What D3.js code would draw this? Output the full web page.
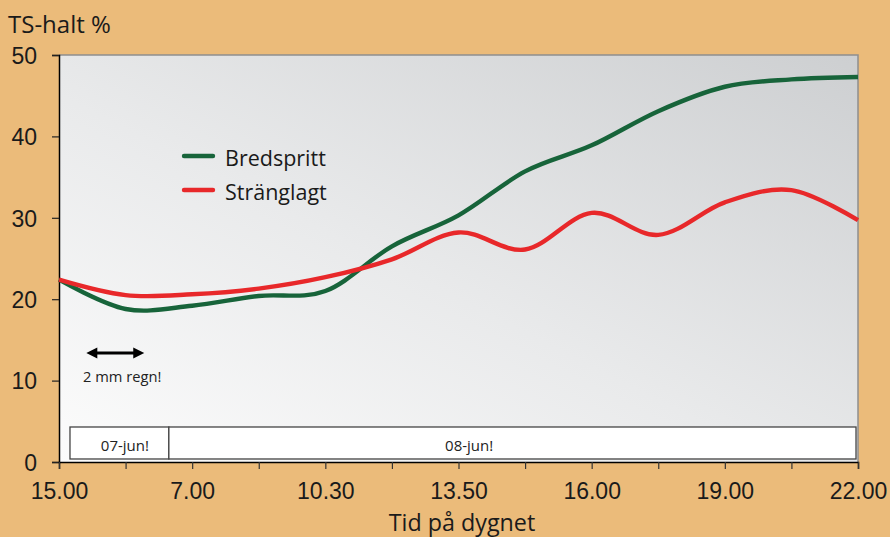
<!DOCTYPE html>
<html><head><meta charset="utf-8">
<script src="https://cdn.jsdelivr.net/npm/d3@7"></script>
<style>
html,body{margin:0;padding:0;background:#EBBB7A;}
svg{display:block;font-family:"Open Sans",sans-serif;}
</style></head>
<body><svg id="c" width="890" height="537"></svg>
<script>
const categories = ["15.00","","7.00","","10.30","","13.50","","16.00","","19.00","","22.00"];
const bredspritt = [22.4, 18.8, 19.2, 20.4, 21.0, 26.5, 30.3, 35.7, 38.9, 43.1, 46.1, 47.0, 47.3];
const stranglagt = [22.4, 20.5, 20.6, 21.3, 22.7, 24.9, 28.2, 26.1, 30.6, 27.9, 31.9, 33.4, 29.7];
const seriesNames = ["Bredspritt","Stränglagt"];
const seriesColors = ["#17643A","#E8282A"];
const yTicks = [0,10,20,30,40,50];
const dateLabels = ["07-jun!","08-jun!"];
const dateSpans = [[0.165,1.65],[1.65,11.97]];
const dateLabelPos = [0.99,6.16];
const rainSpan = [0.41,1.28];
const rainLabel = "2 mm regn!";

const svg = d3.select("#c");
const L=59, R=858, T=55, B=462;
const x = d3.scaleLinear().domain([0,categories.length-1]).range([L,R]);
const y = d3.scaleLinear().domain([0,50]).range([B,T]);

const defs = svg.append("defs");
const g = defs.append("linearGradient").attr("id","bg").attr("x1","0%").attr("y1","100%").attr("x2","100%").attr("y2","0%");
g.append("stop").attr("offset","0%").attr("stop-color","#FCFCFC");
g.append("stop").attr("offset","45%").attr("stop-color","#E9EAEB");
g.append("stop").attr("offset","100%").attr("stop-color","#CDCFD1");

svg.append("rect").attr("x",L).attr("y",T).attr("width",R-L).attr("height",B-T).attr("fill","url(#bg)");
svg.append("path").attr("d",`M${L},${T}H${R}V${B}`).attr("fill","none").attr("stroke","#8f8f8f").attr("stroke-width",1.5);

// date band
const band = svg.append("g");
dateSpans.forEach((s,i)=>{
  band.append("rect").attr("x",x(s[0])).attr("y",y(4.3)).attr("width",x(s[1])-x(s[0])).attr("height",y(0.37)-y(4.3))
    .attr("fill","#fff").attr("stroke","#444").attr("stroke-width",1.3);
  band.append("text").attr("x",x(dateLabelPos[i])).attr("y",450.5).attr("text-anchor","middle")
    .attr("font-size",15).attr("fill","#222").text(dateLabels[i]);
});

// axes
const yAxis = d3.axisLeft(y).tickValues(yTicks).tickSize(7).tickPadding(15);
const ya = svg.append("g").attr("transform",`translate(${L},0)`).call(yAxis);
ya.select(".domain").attr("stroke","#000").attr("stroke-width",1.5);
ya.selectAll(".tick line").attr("stroke","#222").attr("stroke-width",1.2);
ya.selectAll(".tick text").attr("font-size",23).attr("fill","#1a1a1a").attr("dy","0.36em");

const xAxis = d3.axisBottom(x).tickValues(d3.range(categories.length)).tickSize(7).tickPadding(14)
  .tickFormat(i=>categories[i]);
const xa = svg.append("g").attr("transform",`translate(0,${B})`).call(xAxis);
xa.select(".domain").attr("stroke","#000").attr("stroke-width",1.5);
xa.selectAll(".tick line").attr("stroke","#333").attr("stroke-width",1.2);
xa.selectAll(".tick text").attr("font-size",23).attr("fill","#1a1a1a");

// lines
const line = d3.line().x((d,i)=>x(i)).y(d=>y(d)).curve(d3.curveCardinal.tension(0));
[bredspritt,stranglagt].forEach((s,k)=>{
  svg.append("path").datum(s).attr("d",line).attr("fill","none").attr("stroke",seriesColors[k]).attr("stroke-width",4.4)
    .attr("stroke-linejoin","round");
});

// legend
seriesNames.forEach((n,k)=>{
  const yy = 156 + k*34;
  svg.append("line").attr("x1",184).attr("x2",213).attr("y1",yy).attr("y2",yy).attr("stroke",seriesColors[k]).attr("stroke-width",4.4).attr("stroke-linecap","round");
  svg.append("text").attr("x",225).attr("y",yy+10).attr("font-size",21.5).attr("fill","#1a1a1a").text(n);
});

// rain arrow
const ay = 353;
const ax1=x(rainSpan[0]), ax2=x(rainSpan[1]);
svg.append("line").attr("x1",ax1+6).attr("x2",ax2-6).attr("y1",ay).attr("y2",ay).attr("stroke","#000").attr("stroke-width",3);
svg.append("path").attr("d",`M${ax1},${ay}L${ax1+11},${ay-5.5}L${ax1+11},${ay+5.5}Z`).attr("fill","#000");
svg.append("path").attr("d",`M${ax2},${ay}L${ax2-11},${ay-5.5}L${ax2-11},${ay+5.5}Z`).attr("fill","#000");
svg.append("text").attr("x",83).attr("y",382).attr("font-size",14.7).attr("fill","#222").text(rainLabel);

// titles
svg.append("text").attr("x",8).attr("y",33).attr("font-size",24).attr("fill","#1a1a1a").text("TS-halt %");
svg.append("text").attr("x",462).attr("y",531).attr("text-anchor","middle").attr("font-size",23.3).attr("fill","#1a1a1a").text("Tid på dygnet");
</script></body></html>
